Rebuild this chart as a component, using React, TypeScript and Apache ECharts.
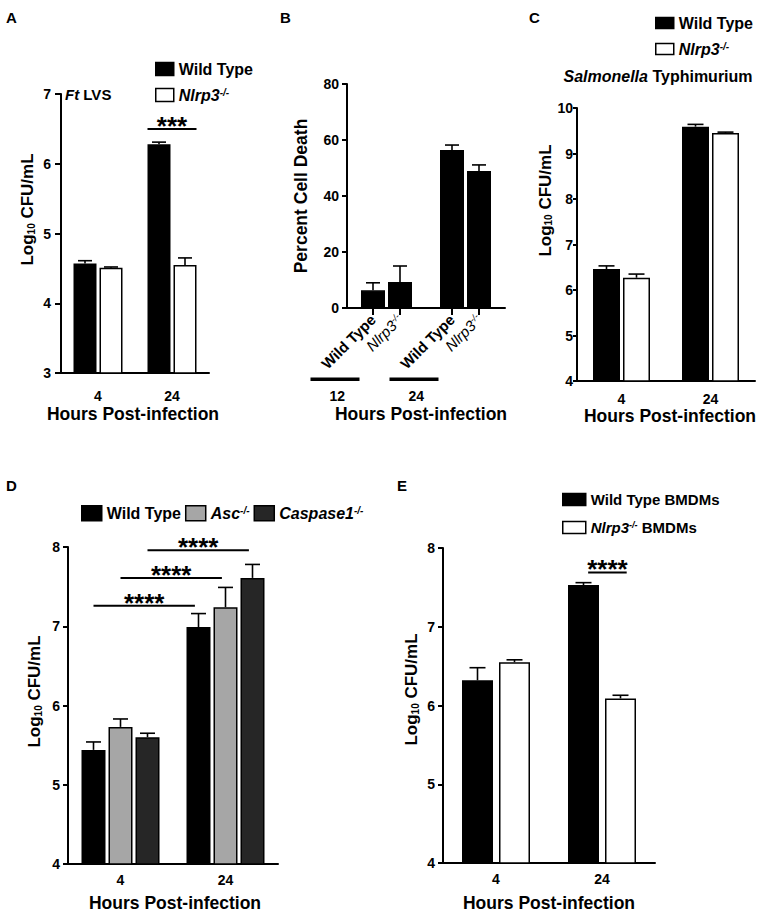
import React, { useEffect, useRef } from 'react';
import * as echarts from 'echarts';

const FONT = '"Liberation Sans", Arial, Helvetica, sans-serif';

// ---------------- data ----------------
// A: Ft LVS
const hoursA = ['4', '24'];
const ftWildType = [4.57, 6.28];
const ftWildTypeSem = [0.04, 0.03];
const ftNlrp3 = [4.51, 4.55];
const ftNlrp3Sem = [0.01, 0.1];
const sigA = [{ cat: [1, 1], series: [0, 1], y: 6.5, text: '***' }];

// B: percent cell death
const hoursB = ['12', '24'];
const deathGenotypes = ['{b|Wild Type}', '{n|Nlrp3}{sn|-/-}'];
const deathWildType = [6.3, 56.4];
const deathWildTypeSem = [2.7, 1.8];
const deathNlrp3 = [9.3, 48.9];
const deathNlrp3Sem = [5.7, 2.2];

// C: Salmonella Typhimurium
const hoursC = ['4', '24'];
const stmWildType = [6.46, 9.59];
const stmWildTypeSem = [0.07, 0.05];
const stmNlrp3 = [6.27, 9.45];
const stmNlrp3Sem = [0.08, 0.02];

// D: WT / Asc / Caspase1
const hoursD = ['4', '24'];
const dWildType = [5.44, 6.99];
const dWildTypeSem = [0.1, 0.17];
const dAsc = [5.73, 7.24];
const dAscSem = [0.1, 0.25];
const dCasp1 = [5.6, 7.61];
const dCasp1Sem = [0.05, 0.17];
const sigD = [
  { cat: [0, 1], series: [0, 0], y: 7.26, text: '****' },
  { cat: [0, 1], series: [1, 1], y: 7.61, text: '****' },
  { cat: [0, 1], series: [2, 2], y: 7.96, text: '****' },
];

// E: BMDMs
const hoursE = ['4', '24'];
const bmdmWildType = [6.32, 7.53];
const bmdmWildTypeSem = [0.16, 0.03];
const bmdmNlrp3 = [6.55, 6.09];
const bmdmNlrp3Sem = [0.03, 0.04];
const sigE = [{ cat: [1, 1], series: [0, 1], y: 7.69, text: '****' }];

// ---------------- styling ----------------
const BLACK = '#000000';
const WHITE = '#ffffff';
const GRAY = '#a6a6a6';
const DARK = '#262626';
const LOG_NAME = '{t|Log}{sub|10}{t| CFU/mL}';
const X_NAME = 'Hours Post-infection';

function rich(fs: number) {
  const sfs = Math.round(fs * 0.6);
  return {
    t: { fontFamily: FONT, fontWeight: 'bold', fontSize: fs, color: '#000' },
    b: { fontFamily: FONT, fontWeight: 'bold', fontSize: fs, color: '#000' },
    i: { fontFamily: FONT, fontWeight: 'bold', fontStyle: 'italic', fontSize: fs, color: '#000' },
    n: { fontFamily: FONT, fontWeight: 'normal', fontStyle: 'italic', fontSize: fs, color: '#000' },
    s: { fontFamily: FONT, fontWeight: 'bold', fontStyle: 'italic', fontSize: sfs, verticalAlign: 'top', color: '#000' },
    sn: { fontFamily: FONT, fontWeight: 'normal', fontStyle: 'italic', fontSize: sfs, verticalAlign: 'top', color: '#000' },
    sub: { fontFamily: FONT, fontWeight: 'bold', fontSize: sfs, verticalAlign: 'bottom', color: '#000' },
  };
}

type S = { name: string; label: string; values: number[]; sem: number[]; color: string };
type P = {
  grid: { left: number; top: number; width: number; height: number };
  cats: string[];
  y: [number, number, number];
  bw: number; gap: number; cap: number;
  yName: string; yNameSize: number; yNameGap: number; yNameShift: number;
  yLabelSize: number; yLabelMargin: number; yTickLen: number;
  xNameSize: number; xNameGap: number; xNameShift: number;
  xLabelSize: number; xLabelMargin: number; showXLabels: boolean;
  series: S[];
  sig?: { cat: number[]; series: number[]; y: number; text: string }[];
  sigDx?: [number, number];
  legend?: any;
};

const panels: P[] = [
  {
    grid: { left: 61, top: 94, width: 148, height: 279 }, cats: hoursA, y: [3, 7, 1],
    bw: 23, gap: 3, cap: 14,
    yName: LOG_NAME, yNameSize: 17, yNameGap: 25, yNameShift: 48, yLabelSize: 14, yLabelMargin: 10, yTickLen: 6,
    xNameSize: 17.5, xNameGap: 32, xNameShift: 2, xLabelSize: 14, xLabelMargin: 16, showXLabels: true,
    series: [
      { name: 'A_WT', label: '{b|Wild Type}', values: ftWildType, sem: ftWildTypeSem, color: BLACK },
      { name: 'A_KO', label: '{i|Nlrp3}{s|-/-}', values: ftNlrp3, sem: ftNlrp3Sem, color: WHITE },
    ],
    sig: sigA, sigDx: [-0.5, 0.5],
    legend: { left: 155, top: 61, orient: 'vertical', itemWidth: 18, itemHeight: 13, itemGap: 10, fs: 16 },
  },
  {
    grid: { left: 347, top: 84, width: 158, height: 224 }, cats: hoursB, y: [0, 80, 20],
    bw: 24, gap: 3, cap: 14,
    yName: '{b|Percent Cell Death}', yNameSize: 17.5, yNameGap: 37, yNameShift: 0, yLabelSize: 14, yLabelMargin: 8, yTickLen: 5,
    xNameSize: 17.5, xNameGap: 97, xNameShift: 5, xLabelSize: 14, xLabelMargin: 10, showXLabels: false,
    series: [
      { name: 'B_WT', label: 'Wild Type', values: deathWildType, sem: deathWildTypeSem, color: BLACK },
      { name: 'B_KO', label: 'Nlrp3', values: deathNlrp3, sem: deathNlrp3Sem, color: BLACK },
    ],
  },
  {
    grid: { left: 577, top: 108, width: 178, height: 273 }, cats: hoursC, y: [4, 10, 1],
    bw: 27, gap: 3, cap: 16,
    yName: LOG_NAME, yNameSize: 17, yNameGap: 20, yNameShift: 88, yLabelSize: 14, yLabelMargin: 4, yTickLen: 4,
    xNameSize: 17.5, xNameGap: 24, xNameShift: -4, xLabelSize: 14, xLabelMargin: 11, showXLabels: true,
    series: [
      { name: 'C_WT', label: '{b|Wild Type}', values: stmWildType, sem: stmWildTypeSem, color: BLACK },
      { name: 'C_KO', label: '{i|Nlrp3}{s|-/-}', values: stmNlrp3, sem: stmNlrp3Sem, color: WHITE },
    ],
    legend: { left: 655, top: 15, orient: 'vertical', itemWidth: 18, itemHeight: 11, itemGap: 10, fs: 16 },
  },
  {
    grid: { left: 68, top: 547, width: 210, height: 317 }, cats: hoursD, y: [4, 8, 1],
    bw: 24, gap: 3, cap: 15,
    yName: LOG_NAME, yNameSize: 17, yNameGap: 25, yNameShift: 28, yLabelSize: 14, yLabelMargin: 8, yTickLen: 5,
    xNameSize: 17.5, xNameGap: 30, xNameShift: -2, xLabelSize: 14, xLabelMargin: 9, showXLabels: true,
    series: [
      { name: 'D_WT', label: '{b|Wild Type}', values: dWildType, sem: dWildTypeSem, color: BLACK },
      { name: 'D_ASC', label: '{i|Asc}{s|-/-}', values: dAsc, sem: dAscSem, color: GRAY },
      { name: 'D_CASP', label: '{i|Caspase1}{s|-/-}', values: dCasp1, sem: dCasp1Sem, color: DARK },
    ],
    sig: sigD, sigDx: [0, -0.15],
    legend: { left: 81, top: 505, orient: 'horizontal', itemWidth: 20, itemHeight: 15, itemGap: 4, fs: 16 },
  },
  {
    grid: { left: 443, top: 548, width: 212, height: 315 }, cats: hoursE, y: [4, 8, 1],
    bw: 31, gap: 6, cap: 16,
    yName: LOG_NAME, yNameSize: 17, yNameGap: 23, yNameShift: 32, yLabelSize: 14, yLabelMargin: 8, yTickLen: 5,
    xNameSize: 17.5, xNameGap: 31, xNameShift: 0, xLabelSize: 14, xLabelMargin: 9, showXLabels: true,
    series: [
      { name: 'E_WT', label: '{b|Wild Type BMDMs}', values: bmdmWildType, sem: bmdmWildTypeSem, color: BLACK },
      { name: 'E_KO', label: '{i|Nlrp3}{s|-/-}{b| BMDMs}', values: bmdmNlrp3, sem: bmdmNlrp3Sem, color: WHITE },
    ],
    sig: sigE, sigDx: [0.15, 0.2],
    legend: { left: 562, top: 492, orient: 'vertical', itemWidth: 23, itemHeight: 12, itemGap: 13, fs: 15 },
  },
];

function buildOption() {
  const grid: any[] = [];
  const xAxis: any[] = [];
  const yAxis: any[] = [];
  const series: any[] = [];
  const legend: any[] = [];
  const graphic: any[] = [];
  const labelMap: Record<string, string> = {};

  panels.forEach((p, gi) => {
    grid.push({ ...p.grid, containLabel: false });
    const xi = xAxis.length;
    const n = p.series.length;
    const off = (k: number) => (k - (n - 1) / 2) * (p.bw + p.gap);
    const sh = p.xNameShift;

    xAxis.push({
      gridIndex: gi,
      type: 'category',
      data: p.cats,
      axisLine: { show: true, onZero: false, lineStyle: { color: '#000', width: 2 } },
      axisTick: { show: false },
      axisLabel: {
        show: p.showXLabels, color: '#000', fontFamily: FONT, fontWeight: 'bold',
        fontSize: p.xLabelSize, margin: p.xLabelMargin,
      },
      name: X_NAME,
      nameLocation: 'middle',
      nameGap: p.xNameGap,
      nameTextStyle: {
        color: '#000', fontFamily: FONT, fontWeight: 'bold', fontSize: p.xNameSize,
        padding: sh >= 0 ? [0, sh * 2, 0, 0] : [0, 0, 0, -sh * 2],
      },
    });

    if (gi === 1) {
      // genotype ticks & rotated labels under each bar
      const bandPx = p.grid.width / p.cats.length;
      const tickVals: number[] = [];
      p.cats.forEach((_, ci) => {
        p.series.forEach((__, k) => tickVals.push(ci + 0.5 + off(k) / bandPx));
      });
      xAxis.push({
        gridIndex: gi,
        type: 'value',
        min: 0,
        max: p.cats.length,
        position: 'bottom',
        axisLine: { show: false, onZero: false },
        splitLine: { show: false },
        axisTick: { show: true, customValues: tickVals, length: 7, lineStyle: { color: '#000', width: 2 } },
        axisLabel: {
          customValues: tickVals,
          rotate: 45,
          margin: 9,
          formatter: (v: number) => {
            const k = tickVals.findIndex((t) => Math.abs(t - v) < 1e-6);
            return deathGenotypes[(k < 0 ? 0 : k) % 2];
          },
          rich: rich(15),
        },
      });
      // group labels 12 / 24 with their bars
      p.cats.forEach((c, ci) => {
        const cx = p.grid.left + bandPx * (ci + 0.5);
        graphic.push({ type: 'rect', shape: { x: cx - 76, y: 377.5, width: 49, height: 3.5 }, style: { fill: '#000' }, silent: true });
        graphic.push({
          type: 'text', x: cx - 57, y: 396, silent: true,
          style: { text: c, font: `bold 14px ${FONT}`, fill: '#000', align: 'left', verticalAlign: 'middle', textAlign: 'left', textVerticalAlign: 'middle' },
        });
      });
    }

    yAxis.push({
      gridIndex: gi,
      type: 'value',
      min: p.y[0],
      max: p.y[1],
      interval: p.y[2],
      axisLine: { show: true, onZero: false, lineStyle: { color: '#000', width: 2 } },
      axisTick: { show: true, length: p.yTickLen, lineStyle: { color: '#000', width: 2 } },
      axisLabel: { color: '#000', fontFamily: FONT, fontWeight: 'bold', fontSize: p.yLabelSize, margin: p.yLabelMargin },
      splitLine: { show: false },
      name: p.yName,
      nameLocation: 'middle',
      nameRotate: 90,
      nameGap: p.yNameGap,
      nameTextStyle: { rich: rich(p.yNameSize), padding: [0, 0, 0, p.yNameShift] },
    });

    p.series.forEach((s, k) => {
      labelMap[s.name] = s.label;
      series.push({
        type: 'bar',
        name: s.name,
        xAxisIndex: xi,
        yAxisIndex: gi,
        data: s.values,
        barWidth: p.bw,
        barGap: `${(p.gap / p.bw) * 100}%`,
        itemStyle: { color: s.color, borderColor: '#000', borderWidth: 1.5 },
        z: 2,
      });
      const o = off(k);
      const cap = p.cap;
      series.push({
        type: 'custom',
        name: s.name + '_err',
        xAxisIndex: xi,
        yAxisIndex: gi,
        silent: true,
        clip: false,
        z: 3,
        encode: { x: 0, y: 1 },
        data: s.values.map((v, i) => [i, v, s.sem[i]]),
        renderItem: (params: any, api: any) => {
          const c = api.value(0);
          const v = api.value(1);
          const e = api.value(2);
          const p0 = api.coord([c, v]);
          const p1 = api.coord([c, v + e]);
          const x = p0[0] + o;
          return {
            type: 'group',
            children: [
              { type: 'line', shape: { x1: x, y1: p0[1], x2: x, y2: p1[1] }, style: { stroke: '#000', lineWidth: 1.6 } },
              { type: 'line', shape: { x1: x - cap / 2, y1: p1[1], x2: x + cap / 2, y2: p1[1] }, style: { stroke: '#000', lineWidth: 1.6 } },
            ],
          };
        },
      });
    });

    if (p.sig) {
      const sig = p.sig;
      const dx = p.sigDx || [0, 0];
      series.push({
        type: 'custom',
        name: `sig_${gi}`,
        xAxisIndex: xi,
        yAxisIndex: gi,
        silent: true,
        clip: false,
        z: 4,
        encode: { x: 0, y: 1 },
        data: sig.map((s) => [s.cat[0], s.y]),
        renderItem: (params: any, api: any) => {
          const s = sig[params.dataIndex];
          const a = api.coord([s.cat[0], s.y]);
          const b = api.coord([s.cat[1], s.y]);
          const x0 = a[0] + off(s.series[0]) + dx[0] * p.bw;
          const x1 = b[0] + off(s.series[1]) + dx[1] * p.bw;
          const y = a[1];
          return {
            type: 'group',
            children: [
              { type: 'line', shape: { x1: x0, y1: y, x2: x1, y2: y }, style: { stroke: '#000', lineWidth: 2 } },
              {
                type: 'text',
                style: {
                  text: s.text, x: (x0 + x1) / 2, y: y - 3,
                  font: `bold 26px ${FONT}`, fill: '#000',
                  align: 'center', verticalAlign: 'middle', textAlign: 'center', textVerticalAlign: 'middle',
                },
              },
            ],
          };
        },
      });
    }

    if (p.legend) {
      const L = p.legend;
      legend.push({
        left: L.left,
        top: L.top,
        orient: L.orient,
        itemWidth: L.itemWidth,
        itemHeight: L.itemHeight,
        itemGap: L.itemGap,
        icon: 'rect',
        selectedMode: false,
        padding: 0,
        data: p.series.map((s) => ({
          name: s.name,
          itemStyle: { color: s.color, borderColor: '#000', borderWidth: 1.5 },
        })),
        formatter: (name: string) => labelMap[name],
        textStyle: { color: '#000', fontFamily: FONT, fontWeight: 'bold', fontSize: L.fs, rich: rich(L.fs) },
      });
    }
  });

  // panel letters and titles
  const letters: [string, number, number][] = [
    ['A', 6, 17], ['B', 280, 17], ['C', 529, 17], ['D', 6, 485], ['E', 397, 485],
  ];
  letters.forEach(([t, x, y]) => {
    graphic.push({
      type: 'text', x, y, silent: true,
      style: { text: t, font: `bold 15px ${FONT}`, fill: '#000', align: 'left', verticalAlign: 'middle', textAlign: 'left', textVerticalAlign: 'middle' },
    });
  });
  graphic.push({
    type: 'text', x: 65, y: 94, silent: true,
    style: { text: '{i|Ft}{b| LVS}', rich: rich(15), align: 'left', verticalAlign: 'middle', textAlign: 'left', textVerticalAlign: 'middle' },
  });
  graphic.push({
    type: 'text', x: 658, y: 76, silent: true,
    style: { text: '{i|Salmonella}{b| Typhimurium}', rich: rich(16), align: 'center', verticalAlign: 'middle', textAlign: 'center', textVerticalAlign: 'middle' },
  });

  return {
    animation: false,
    backgroundColor: '#ffffff',
    textStyle: { fontFamily: FONT },
    grid,
    xAxis,
    yAxis,
    series,
    legend,
    graphic,
  };
}

export default function App() {
  const ref = useRef<HTMLDivElement>(null);
  useEffect(() => {
    if (!ref.current) return;
    const chart = echarts.init(ref.current, undefined, { renderer: 'svg', width: 767, height: 914 });
    chart.setOption(buildOption() as any);
    return () => chart.dispose();
  }, []);
  return (
    <div
      ref={ref}
      style={{ position: 'absolute', left: 0, top: 0, width: 767, height: 914, background: '#fff' }}
    />
  );
}
